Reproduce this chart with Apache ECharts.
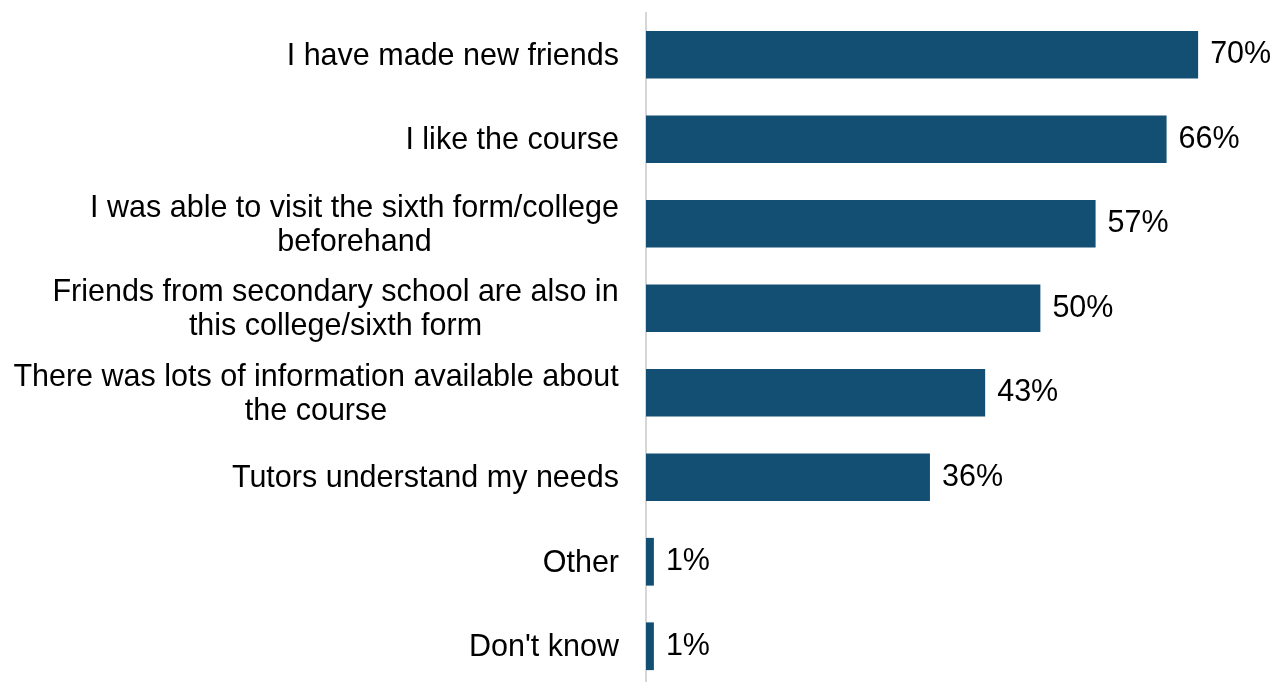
<!DOCTYPE html>
<html>
<head>
<meta charset="utf-8">
<script src="https://cdn.jsdelivr.net/npm/echarts@6/dist/echarts.min.js"></script>
<style>
  html, body { margin: 0; padding: 0; background: #ffffff; }
  #chart { width: 1282px; height: 682px; }
</style>
</head>
<body>
<div id="chart"></div>
<script>
// Reasons for choosing the sixth form / college (share of respondents)
const categories = [
  'I have made new friends',
  'I like the course',
  'I was able to visit the sixth form/college\nbeforehand',
  'Friends from secondary school are also in\nthis college/sixth form',
  'There was lots of information available about\nthe course',
  'Tutors understand my needs',
  'Other',
  "Don't know"
];
const percentages = [70, 66, 57, 50, 43, 36, 1, 1];

const FONT_FAMILY = '"Liberation Sans", Arial, Helvetica, sans-serif';
const FONT_SIZE = 30.5;
const LINE_HEIGHT = 34;
const TEXT_COLOR = '#000000';
const BAR_COLOR = '#124f73';

// Multi-line category labels are centred line by line inside a block
// whose right edge sits against the axis; each block gets its own rich
// style sized to its widest line.
const measureCtx = document.createElement('canvas').getContext('2d');
measureCtx.font = FONT_SIZE + 'px ' + FONT_FAMILY;
const richStyles = {};
const labelTexts = categories.map((cat, i) => {
  const lines = cat.split('\n');
  if (lines.length === 1) return cat;
  const w = Math.ceil(Math.max(...lines.map(l => measureCtx.measureText(l).width)));
  const key = 'c' + i;
  richStyles[key] = {
    width: w,
    align: 'center',
    fontSize: FONT_SIZE,
    fontFamily: FONT_FAMILY,
    color: TEXT_COLOR,
    lineHeight: LINE_HEIGHT
  };
  return lines.map(l => '{' + key + '|' + l + '}').join('\n');
});

const chart = echarts.init(document.getElementById('chart'), null, { renderer: 'canvas' });

chart.setOption({
  animation: false,
  backgroundColor: '#ffffff',
  grid: {
    left: 646,
    right: 5,
    top: 12.5,
    height: 676,
    outerBoundsMode: 'none',
    containLabel: false
  },
  xAxis: {
    type: 'value',
    min: 0,
    max: 80,
    show: false
  },
  yAxis: {
    type: 'category',
    inverse: true,
    data: categories,
    axisLine: { show: true, lineStyle: { color: '#c9c9c9', width: 1.5 } },
    axisTick: { show: false },
    splitLine: { show: false },
    axisLabel: {
      margin: 27,
      fontSize: FONT_SIZE,
      fontFamily: FONT_FAMILY,
      color: TEXT_COLOR,
      lineHeight: LINE_HEIGHT,
      align: 'right',
      padding: [3, 0, 0, 0],
      formatter: (value, index) => labelTexts[index],
      rich: richStyles
    }
  },
  series: [{
    type: 'bar',
    data: percentages,
    barCategoryGap: '43.5%',
    itemStyle: { color: BAR_COLOR },
    label: {
      show: true,
      position: 'right',
      distance: 12,
      formatter: '{c}%',
      fontSize: FONT_SIZE,
      fontFamily: FONT_FAMILY,
      color: TEXT_COLOR
    }
  }]
});
</script>
</body>
</html>
